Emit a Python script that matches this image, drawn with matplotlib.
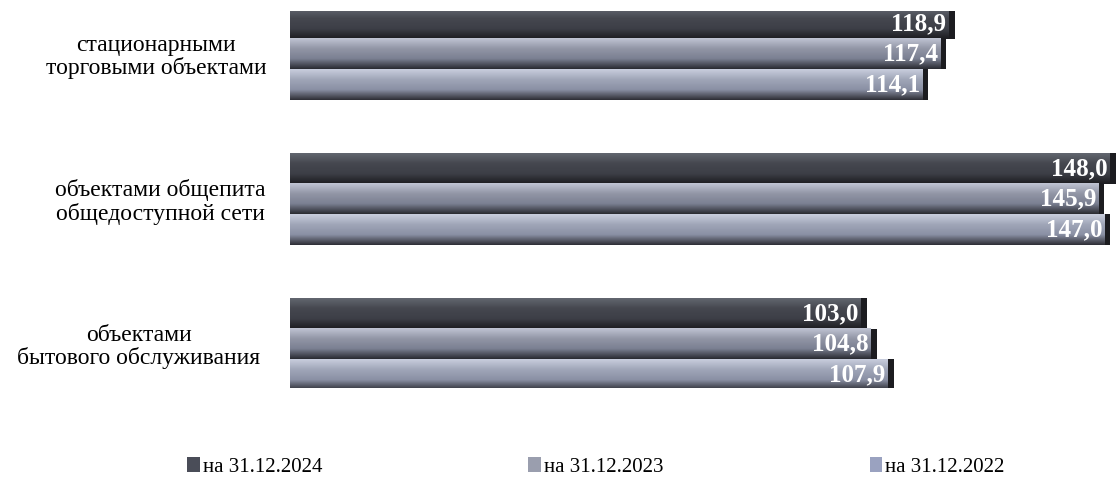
import numpy as np
import matplotlib
matplotlib.use("Agg")
import matplotlib.pyplot as plt
from matplotlib.colors import LinearSegmentedColormap
from matplotlib.patches import Patch
from matplotlib.transforms import blended_transform_factory

plt.rcParams['font.family'] = ['Liberation Serif', 'DejaVu Serif']

# data
categories = [
    "стационарными\nторговыми объектами",
    "объектами общепита\nобщедоступной сети",
    "объектами\nбытового обслуживания",
]
series_labels = ["на 31.12.2024", "на 31.12.2023", "на 31.12.2022"]
values_2024 = [118.9, 148.0, 103.0]
values_2023 = [117.4, 145.9, 104.8]
values_2022 = [114.1, 147.0, 107.9]
series_values = [values_2024, values_2023, values_2022]

# top / base / bottom tones of each series gradient
tones = [
    ["#62666f", "#45474f", "#3d3f47", "#1c1c20"],
    ["#c0c4d3", "#9296a6", "#7b8092", "#2a2b32"],
    ["#c8cddd", "#a0a6b8", "#8a90a4", "#2e2f36"],
]
legend_colors = ["#4a4d58", "#9a9eae", "#9aa2c0"]
# x centre (pixels) of each category caption
label_x = [156, 160, 139]

fig = plt.figure(figsize=(11.16, 4.83), dpi=100)
ax = fig.add_axes([290 / 1116, 0.1977, 1 - 290 / 1116, 0.7805])

bar_h = 0.21
y = np.arange(len(categories))
grad = np.linspace(0, 1, 64).reshape(-1, 1)

for i, (vals, tn) in enumerate(zip(series_values, tones)):
    pos = y + (i - 1) * bar_h
    bars = ax.barh(pos, vals, height=bar_h, color=tn[1], linewidth=0)
    cmap = LinearSegmentedColormap.from_list("s%d" % i, tn)
    for bar, v in zip(bars, vals):
        x0, y0 = bar.get_x(), bar.get_y()
        ax.imshow(grad, extent=(x0, x0 + bar.get_width(), y0 + bar_h, y0),
                  origin='upper', aspect='auto', cmap=cmap,
                  clip_path=bar, zorder=2)
        # dark side face
        ax.barh(y0 + bar_h / 2, 1.0, left=v, height=bar_h, color='#1c1c20',
                linewidth=0, zorder=2)
        ax.text(v - 0.5, y0 + bar_h / 2, ("%.1f" % v).replace('.', ','),
                ha='right', va='center', color='white', fontweight='bold',
                fontsize=18, zorder=3)

ax.set_xlim(0, 149)
ax.set_ylim(2.3, -0.3)
ax.axis('off')

trans = blended_transform_factory(fig.transFigure, ax.transData)
for yc, cat, lx in zip(y, categories, label_x):
    ax.text(lx / 1116, yc + 0.02, cat, transform=trans, ha='center',
            va='center', multialignment='center', fontsize=17,
            linespacing=1.1)

handles = [Patch(facecolor=c, edgecolor='none') for c in legend_colors]
fig.legend(handles, series_labels, loc='center', bbox_to_anchor=(0.534, 0.033),
           ncol=3, frameon=False, fontsize=15, handlelength=0.6,
           handleheight=0.7, handletextpad=0.15, columnspacing=9.9)

fig.savefig("out.png", dpi=100)
